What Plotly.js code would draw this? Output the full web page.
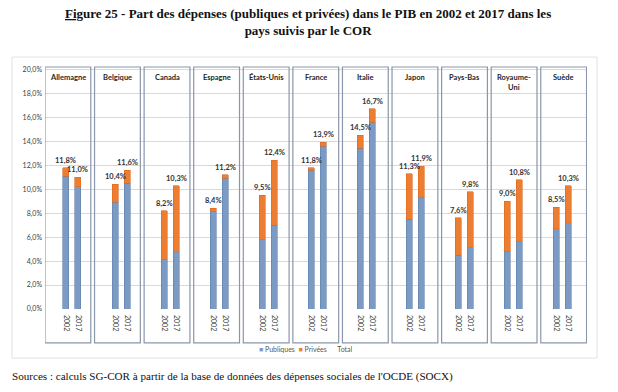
<!DOCTYPE html>
<html>
<head>
<meta charset="utf-8">
<script src="https://cdn.plot.ly/plotly-3.0.1.min.js"></script>
<style>html,body{margin:0;padding:0;background:#fff;}#chart{width:618px;height:392px;}</style>
</head>
<body>
<div id="chart"></div>
<script>
// ---- data ----
const countries = ["Allemagne","Belgique","Canada","Espagne","États-Unis","France","Italie","Japon","Pays-Bas","Royaume-<br>Uni","Suède"];
const years = ["2002","2017"];
const publiques2002 = [11.1, 8.9, 4.1, 8.1, 5.8, 11.6, 13.4, 7.5, 4.5, 4.8, 6.7];
const publiques2017 = [10.2, 10.5, 4.8, 10.9, 7.0, 13.6, 15.6, 9.3, 5.1, 5.6, 7.2];
const privees2002 = [0.7, 1.5, 4.1, 0.3, 3.7, 0.2, 1.1, 3.8, 3.1, 4.2, 1.8];
const privees2017 = [0.8, 1.1, 5.5, 0.3, 5.4, 0.3, 1.1, 2.6, 4.7, 5.2, 3.1];

// ---- build ----
const BAR_OFF = 0.1223, BAR_W = 0.122;
const xs = [], pub = [], priv = [], tickText = [];
countries.forEach((c, i) => {
  xs.push(i - BAR_OFF, i + BAR_OFF);
  pub.push(publiques2002[i], publiques2017[i]);
  priv.push(privees2002[i], privees2017[i]);
  tickText.push(years[0], years[1]);
});
const totals = pub.map((v, k) => Math.round((v + priv[k]) * 10) / 10);
const fmt = v => v.toFixed(1).replace('.', ',') + '%';

const BLUE = '#7b9bc4', ORANGE = '#ed7d31';
const traces = [
  {type: 'bar', name: 'Publiques', x: xs, y: pub, width: BAR_W,
   marker: {color: BLUE, line: {color: '#5f80aa', width: 0.6}}, hoverinfo: 'skip'},
  {type: 'bar', name: 'Privées', x: xs, y: priv, width: BAR_W,
   marker: {color: ORANGE, line: {color: '#d86a22', width: 0.6}}, hoverinfo: 'skip'}
];

const shapes = [];
const annotations = [];
// outer frame
shapes.push({type: 'rect', xref: 'paper', yref: 'paper', x0: -0.0609, x1: 1.0185, y0: -0.2025, y1: 1.041,
  line: {color: '#e2e2e2', width: 1}, layer: 'below'});
countries.forEach((c, i) => {
  const cx = -0.0836 + i * 1.0108;
  shapes.push({type: 'rect', xref: 'x', yref: 'paper', x0: cx - 0.467, x1: cx + 0.467, y0: -0.14, y1: 1.0,
    line: {color: '#8a97aa', width: 1.2}, layer: 'above'});
  annotations.push({xref: 'x', yref: 'paper', x: cx, y: 0.985, yanchor: 'top', xanchor: 'center',
    text: '<b>' + c + '</b>', showarrow: false, font: {family: 'Lato', size: 7.5, color: '#262626'}});
});
xs.forEach((x, k) => {
  annotations.push({xref: 'x', yref: 'y', x: x, y: totals[k], yanchor: 'bottom', xanchor: 'center', yshift: 1,
    text: '<b>' + fmt(totals[k]) + '</b>', showarrow: false, font: {family: 'Lato', size: 7.5, color: '#333'}});
});
// title
annotations.push({xref: 'paper', yref: 'paper', x: 0.485, y: 1.186, xanchor: 'center', yanchor: 'middle', showarrow: false,
  text: '<b><u>Fig</u>ure 25 - Part des dépenses (publiques et privées) dans le PIB en 2002 et 2017 dans les<br>pays suivis par le COR</b>',
  font: {family: 'Liberation Serif', size: 13, color: '#111'}});
// legend
annotations.push({xref: 'paper', yref: 'paper', x: 0.4815, y: -0.165, xanchor: 'center', yanchor: 'middle', showarrow: false,
  text: '<span style="color:' + BLUE + '">■</span> Publiques  <span style="color:' + ORANGE + '">■</span> Privées      Total',
  font: {family: 'Lato', size: 7, color: '#595959'}});
// source
annotations.push({xref: 'paper', yref: 'paper', x: -0.0646, y: -0.277, xanchor: 'left', yanchor: 'middle', showarrow: false,
  text: "Sources : calculs SG-COR à partir de la base de données des dépenses sociales de l'OCDE (SOCX)",
  font: {family: 'Liberation Serif', size: 11.1, color: '#111'}});

const layout = {
  width: 618, height: 392,
  margin: {l: 45, r: 31, t: 67, b: 83},
  paper_bgcolor: '#fff', plot_bgcolor: '#fff',
  separators: ', ',
  barmode: 'stack', showlegend: false,
  xaxis: {range: [-0.55, 10.5], tickvals: xs, ticktext: tickText, tickangle: 90, showgrid: false,
    zeroline: false, showline: false, ticks: '', ticklabelstandoff: 5,
    tickfont: {family: 'Lato', size: 7, color: '#404040'}, fixedrange: true},
  yaxis: {range: [0, 20.2], dtick: 2, tick0: 0, tickformat: '.1f', ticksuffix: '%',
    showgrid: true, gridcolor: '#d9d9d9', gridwidth: 1, zeroline: false, showline: false, ticks: '',
    ticklabelstandoff: 2, tickfont: {family: 'Lato', size: 7, color: '#404040'}, fixedrange: true},
  shapes: shapes, annotations: annotations
};
Plotly.newPlot('chart', traces, layout, {displayModeBar: false, staticPlot: true});
</script>
</body>
</html>
